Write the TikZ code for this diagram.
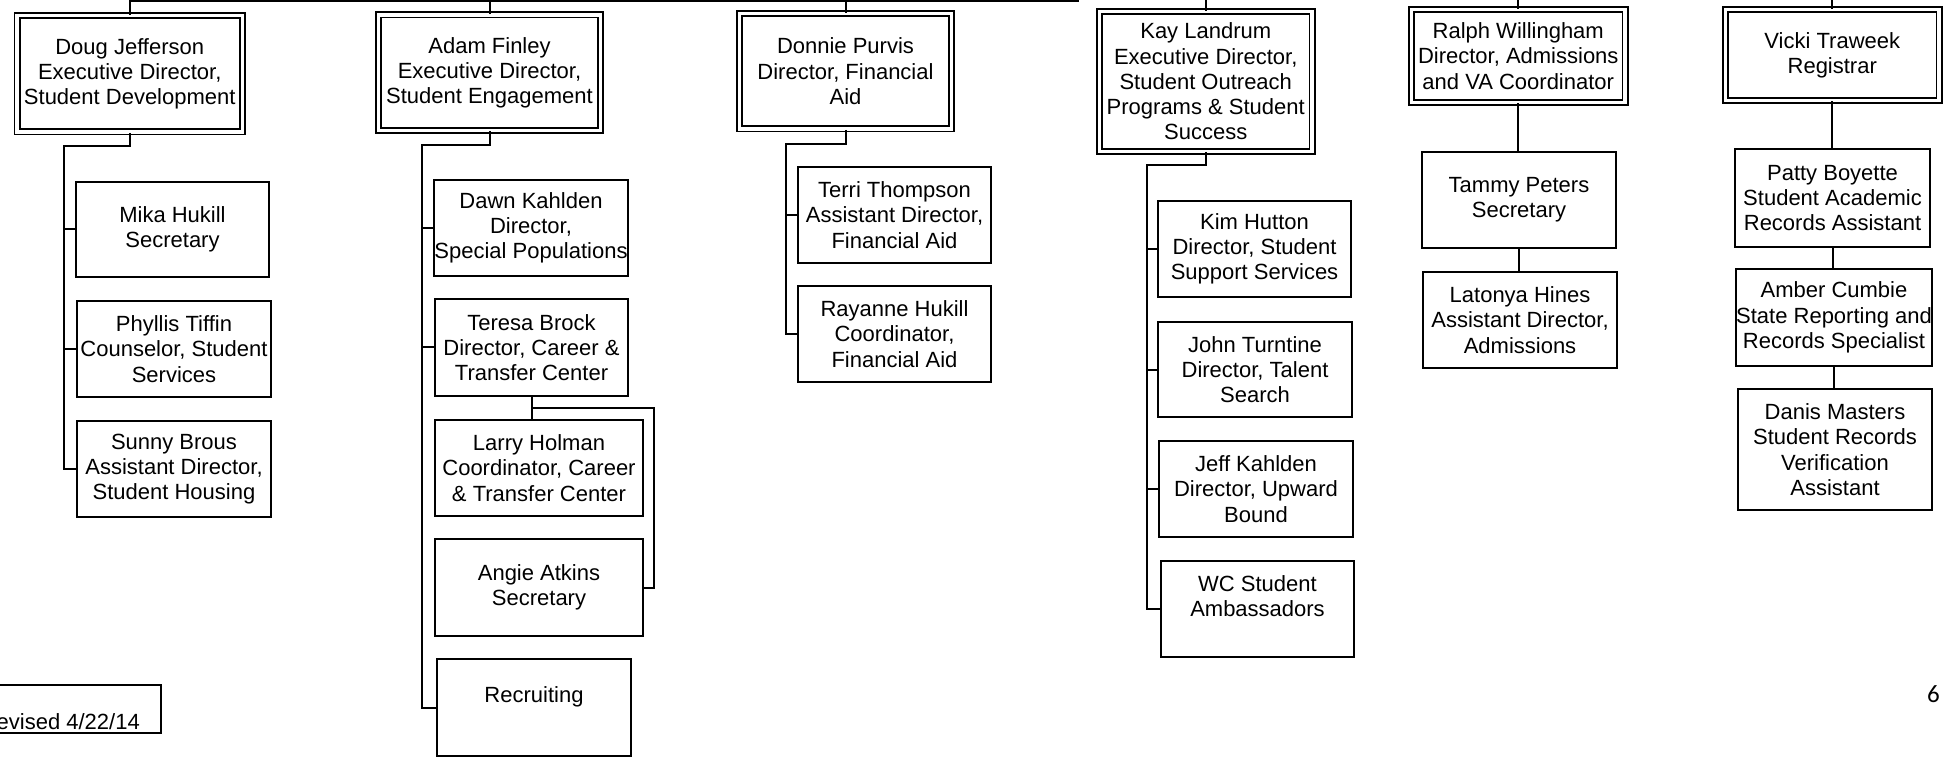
\documentclass[tikz,border=0pt]{standalone}
\usepackage{fontspec}
\setmainfont{Liberation Sans}
\newfontfamily\pagenumfont{Carlito}
\newcommand\orgfont{\fontsize{22}{25.3}\selectfont}
\begin{document}
\begin{tikzpicture}[x=1pt,y=-1pt,
  box/.style={draw, line width=2pt, inner sep=0pt, align=center, font=\orgfont,
              minimum width=194pt, minimum height=96pt},
  headbox/.style={box, double, double distance=3.4pt, line width=1.8pt},
  conn/.style={line width=2pt}]
\useasboundingbox (0,0) rectangle (1944,759);

% top-level boxes
\node[headbox, minimum width=225.5pt, minimum height=116.5pt] (doug) at (129.75,73.75) {Doug Jefferson\\Executive Director,\\Student Development};
\node[headbox, minimum width=222pt, minimum height=115.5pt] (adam) at (489.5,72.75) {Adam Finley\\Executive Director,\\Student Engagement};
\node[headbox, minimum width=212pt, minimum height=115.5pt] (donnie) at (845.5,71.25) {Donnie Purvis\\Director, Financial\\Aid};
\node[headbox, minimum width=212.5pt, minimum height=140pt] (kay) at (1205.75,81.5) {Kay Landrum\\Executive Director,\\Student Outreach\\Programs \& Student\\Success};
\node[headbox, minimum width=213.5pt, minimum height=93pt] (ralph) at (1518.25,56) {Ralph Willingham\\Director, Admissions\\and VA Coordinator};
\node[headbox, minimum width=213.5pt, minimum height=91pt] (vicki) at (1832.25,55) {Vicki Traweek\\Registrar};

% Doug's staff
\node[box, minimum width=193pt, minimum height=95pt] (mika) at (172.5,229.5) {Mika Hukill\\Secretary};
\node[box] (phyllis) at (174,349) {Phyllis Tiffin\\Counselor, Student\\Services};
\node[box] (sunny) at (174,469) {Sunny Brous\\Assistant Director,\\Student Housing};

% Adam's staff
\node[box] (dawn) at (531,228) {Dawn Kahlden\\Director,\\Special Populations};
\node[box, minimum width=193pt, minimum height=97pt] (teresa) at (531.5,347.5) {Teresa Brock\\Director, Career \&\\Transfer Center};
\node[box, minimum width=208pt] (larry) at (539,468) {Larry Holman\\Coordinator, Career\\\& Transfer Center};
\node[box, minimum width=208pt, minimum height=97pt] (angie) at (539,587.5) {Angie Atkins\\Secretary};
\node[box, minimum height=97pt] (recruit) at (534,707.5) {Recruiting\\~};

% Donnie's staff
\node[box, minimum width=193pt] (terri) at (894.5,215) {Terri Thompson\\Assistant Director,\\Financial Aid};
\node[box, minimum width=193pt] (rayanne) at (894.5,334) {Rayanne Hukill\\Coordinator,\\Financial Aid};

% Kay's staff
\node[box, minimum width=193pt] (kim) at (1254.5,249) {Kim Hutton\\Director, Student\\Support Services};
\node[box, minimum height=95pt] (john) at (1255,369.5) {John Turntine\\Director, Talent\\Search};
\node[box] (jeff) at (1256,489) {Jeff Kahlden\\Director, Upward\\Bound};
\node[box, minimum width=193pt] (wc) at (1257.5,609) {WC Student\\Ambassadors\\~};

% Ralph's staff
\node[box] (tammy) at (1519,200) {Tammy Peters\\Secretary};
\node[box] (latonya) at (1520,320) {Latonya Hines\\Assistant Director,\\Admissions};

% Vicki's staff
\node[box, minimum width=195pt, minimum height=98pt] (patty) at (1832.5,198) {Patty Boyette\\Student Academic\\Records Assistant};
\node[box, minimum height=97pt] (amber) at (1834,317.5) {Amber Cumbie\\State Reporting and\\Records Specialist};
\node[box, minimum height=121pt] (danis) at (1835,449.5) {Danis Masters\\Student Records\\Verification\\Assistant};

% revised note (cut at the page edge, as printed) and page number
\draw[line width=2pt] (-20,685) rectangle (161,733);
\node[font=\orgfont, anchor=base east, inner sep=0pt] (rev) at (140,729) {evised 4/22/14};
\node[font=\pagenumfont\fontsize{25}{30}\selectfont, anchor=base east, inner sep=0pt] (pg) at (1940,702) {6};

% top connectors
\coordinate (tl) at (129,1);
\coordinate (tr) at (1079,1);
\coordinate (edge) at (0,-4);
\draw[conn] (doug.north) |- (tr);
\draw[conn] (adam.north) -- (adam.north |- tl);
\draw[conn] (donnie.north) -- (donnie.north |- tl);
\draw[conn] (kay.north) -- (kay.north |- edge);
\draw[conn] (ralph.north) -- (ralph.north |- edge);
\draw[conn] (vicki.north) -- (vicki.north |- edge);

% Doug bus
\coordinate (dbus) at (64,146);
\draw[conn] (doug.south) |- (dbus) |- (sunny.west);
\draw[conn] (dbus |- mika.west) -- (mika.west);
\draw[conn] (dbus |- phyllis.west) -- (phyllis.west);

% Adam bus
\coordinate (abus) at (422,145);
\draw[conn] (adam.south) |- (abus) |- (recruit.west);
\draw[conn] (abus |- dawn.west) -- (dawn.west);
\draw[conn] (abus |- teresa.west) -- (teresa.west);
\draw[conn] (teresa.south) -- (teresa.south |- larry.north);
\coordinate (tbr) at (654,408);
\draw[conn] (teresa.south |- tbr) -- (tbr) |- (angie.east);

% Donnie bus
\coordinate (nbus) at (786,144);
\draw[conn] (donnie.south) |- (nbus) |- (rayanne.west);
\draw[conn] (nbus |- terri.west) -- (terri.west);

% Kay bus
\coordinate (kbus) at (1147,165);
\draw[conn] (kay.south) |- (kbus) |- (wc.west);
\draw[conn] (kbus |- kim.west) -- (kim.west);
\draw[conn] (kbus |- john.west) -- (john.west);
\draw[conn] (kbus |- jeff.west) -- (jeff.west);

% Ralph chain
\draw[conn] (ralph.south) -- (ralph.south |- tammy.north);
\draw[conn] (tammy.south) -- (tammy.south |- latonya.north);

% Vicki chain
\draw[conn] (vicki.south) -- (vicki.south |- patty.north);
\draw[conn] (patty.south) -- (patty.south |- amber.north);
\draw[conn] (amber.south) -- (amber.south |- danis.north);
\end{tikzpicture}
\end{document}
